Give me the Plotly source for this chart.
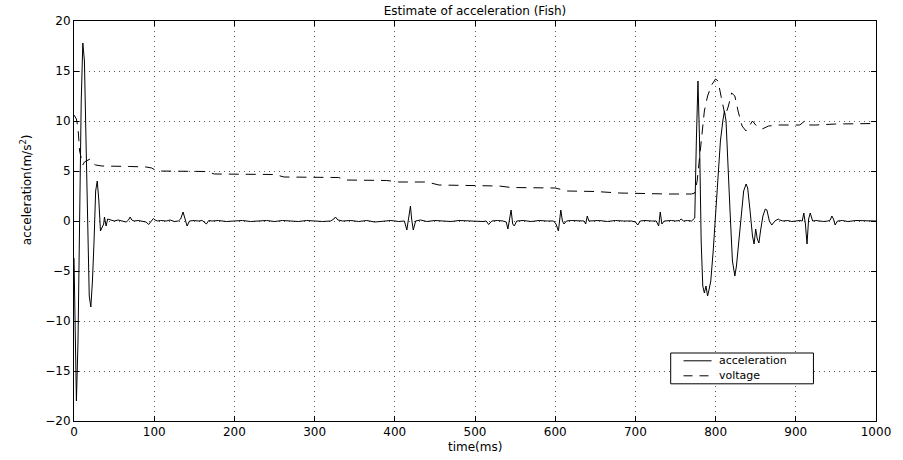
import plotly.graph_objects as go

# ---------------- data ----------------
time_acc = [
    0, 1, 3, 5, 7, 9, 11, 13, 15, 17, 19, 21, 23, 25, 27, 29, 31, 33, 35, 37, 38, 40, 42, 45,
    50, 55, 60, 65, 68, 70, 72, 75, 80, 85, 90, 93, 96, 99, 101, 104, 108, 115, 120, 125, 130,
    133, 136, 139, 141, 144, 150, 155, 160, 165, 168, 172,
    180, 190, 200, 210, 220, 230, 240, 250, 260, 270, 280, 290, 300, 310, 320,
    324, 326, 329, 335, 345, 355, 365, 375, 385, 395, 405,
    412, 415, 417, 419.5, 421, 423, 426, 432, 440, 450, 460, 470, 480, 490, 500, 510,
    514, 517, 521, 528,
    535, 539, 541, 543, 545, 547, 549, 552, 560, 570, 580, 590, 598,
    601, 604, 607, 609, 611, 614, 620, 630, 636, 638, 640, 642, 645,
    655, 665, 675, 685, 695, 700, 703, 706, 712, 720, 726, 729, 731, 733, 736,
    745, 750, 755, 757, 760, 765, 770,
    774, 776, 778, 780, 782, 784, 786, 788, 790, 792, 794,
    797, 800, 803, 806, 809, 811, 813, 815, 818, 821, 824, 826, 829, 832, 835, 838, 840,
    843, 846, 848, 850, 852, 854, 856, 859, 862, 864, 867, 870, 874, 878, 880, 884,
    890, 895, 900, 905, 908, 910, 912, 914, 916, 918, 921, 925, 930, 935, 940, 943, 945,
    947, 949, 952, 958, 965, 975, 985, 995, 1000,
]
acceleration = [
    -3.7, -10, -18, -12, 0, 12, 17.8, 16, 8, -2, -7.5, -8.6, -6, -2, 3, 4, 2, -1, -0.6, -0.3, 0.4, -0.5, 0.2, 0.1,
    0.0, 0.1, 0.0, -0.1, 0.1, 0.4, 0.1, 0.0, 0.05, 0.0, -0.1, -0.35, 0.0, 0.25, 0.1, 0.0, 0.05, 0.0, 0.1, -0.05, 0.0,
    0.2, 0.9, 0.0, -0.5, 0.0, 0.05, 0.0, 0.05, -0.3, 0.05, 0.0,
    0.05, -0.05, 0.0, 0.05, -0.05, 0.0, 0.05, -0.05, 0.05, 0.0, -0.05, 0.05, 0.0, -0.05, 0.0,
    0.2, 0.4, 0.1, 0.0, 0.05, -0.05, 0.05, -0.1, 0.0, 0.05, -0.05,
    0.0, -0.9, 0.0, 1.5, 0.2, -0.9, 0.0, 0.1, -0.05, 0.05, 0.0, -0.05, 0.05, 0.0, 0.0, -0.05,
    0.0, -0.35, 0.0, 0.05,
    0.0, -0.1, -0.8, 0.2, 1.1, -0.3, -0.5, 0.0, 0.05, -0.05, 0.05, 0.0, 0.0,
    -0.3, -1.0, 1.1, 0.0, -0.3, 0.0, 0.05, 0.0, 0.0, -0.3, 0.5, 0.0, 0.0,
    0.05, -0.05, 0.05, 0.0, 0.0, -0.1, -0.4, 0.0, 0.05, 0.0, 0.0, -0.5, 0.9, -0.3, 0.0,
    0.05, 0.0, 0.05, 0.2, 0.0, 0.05, 0.0,
    0.3, 8, 14, 8, -2, -6.5, -7.2, -6.5, -7.5, -6.8, -6,
    -3, 1, 5, 8, 10, 11, 10, 6, 1, -4, -5.5, -4.5, -2, 0.5, 3, 3.7, 3.3,
    1, -1.5, -2.3, -0.8, -1.8, -2.2, -1, 0.5, 1.2, 1.1, 0, -0.4, 0, 0.2, 0.1, 0,
    0.05, -0.05, 0.0, 0.05, 0.0, 0.8, -0.3, -2.3, 0.2, 0.8, 0.0, 0.05, 0.0, -0.05, 0.0, 0.1, 0.5,
    0.2, -0.4, 0.0, 0.05, -0.05, 0.05, 0.0, 0.0, 0.0,
]

time_volt = [
    0, 3, 5, 7, 9, 11, 13, 17, 20, 23,
    27, 35, 50, 70, 90, 97, 103, 130, 165, 175,
    200, 250, 262, 300, 330, 338, 390, 405, 440, 455,
    500, 530, 545, 600, 615, 650, 680, 700, 740, 770,
    774, 777, 782, 786, 790, 795, 800, 803, 808, 812,
    816, 820, 824, 828, 833, 838, 842, 846, 850, 858,
    866, 880, 900, 905, 911, 915, 925, 950, 1000,
]
voltage = [
    10.6, 10.2, 9.3, 7.0, 6.3, 5.6, 5.9, 6.1, 6.2, 5.8,
    5.6, 5.5, 5.5, 5.45, 5.4, 5.3, 5.0, 5.0, 4.95, 4.7,
    4.7, 4.65, 4.4, 4.4, 4.35, 4.1, 4.05, 3.9, 3.9, 3.6,
    3.55, 3.5, 3.35, 3.3, 3.0, 2.95, 2.8, 2.75, 2.7, 2.7,
    2.8, 4.0, 8.0, 11, 12.5, 13.6, 14.2, 14.0, 12, 10.5,
    11.5, 12.8, 12.5, 11, 9.5, 9.0, 9.5, 10.0, 9.6, 9.2,
    9.5, 9.6, 9.6, 9.6, 10.0, 9.6, 9.6, 9.7, 9.75,
]

series_names = ["acceleration", "voltage"]
x_ticks = [0, 100, 200, 300, 400, 500, 600, 700, 800, 900, 1000]
y_ticks = [-20, -15, -10, -5, 0, 5, 10, 15, 20]

FONT = "DejaVu Sans"
VOLT_DASH = "10px,7px"

fig = go.Figure()
fig.add_trace(go.Scatter(x=time_acc, y=acceleration, mode="lines", name=series_names[0],
                         line=dict(color="black", width=1), showlegend=False))
fig.add_trace(go.Scatter(x=time_volt, y=voltage, mode="lines", name=series_names[1],
                         line=dict(color="black", width=1, dash=VOLT_DASH), showlegend=False))

axis_common = dict(
    showline=True, linecolor="black", linewidth=1, mirror="allticks",
    ticks="inside", ticklen=5, tickcolor="black", tickwidth=1,
    showgrid=True, gridcolor="#5a5a5a", griddash="1px,4px", gridwidth=1,
    zeroline=False, tickfont=dict(family=FONT, size=12, color="black"),
)

fig.update_xaxes(range=[0, 1000], tickvals=x_ticks, **axis_common)
fig.update_yaxes(range=[-20, 20], tickvals=y_ticks,
                 ticktext=[str(v).replace("-", "\u2212") for v in y_ticks], **axis_common)

# legend box (drawn in paper coordinates, like the reference's boxed legend)
lx0, lx1 = 0.744, 0.922
ly0, ly1 = 0.093, 0.170
row_y = [0.1505, 0.1130]
sample_x = [0.760, 0.795]
text_x = 0.803

shapes = [dict(type="rect", xref="paper", yref="paper", x0=lx0, x1=lx1, y0=ly0, y1=ly1,
               line=dict(color="black", width=1), fillcolor="white", layer="above")]
shapes.append(dict(type="line", xref="paper", yref="paper", x0=sample_x[0], x1=sample_x[1],
                   y0=row_y[0], y1=row_y[0], line=dict(color="black", width=1), layer="above"))
shapes.append(dict(type="line", xref="paper", yref="paper", x0=sample_x[0], x1=sample_x[1],
                   y0=row_y[1], y1=row_y[1], line=dict(color="black", width=1, dash="9px,7px"),
                   layer="above"))

annotations = [
    dict(text="time(ms)", xref="paper", yref="paper", x=0.5, y=-0.065,
         xanchor="center", yanchor="middle", showarrow=False,
         font=dict(family=FONT, size=12, color="black")),
    dict(text="acceleration(m/s<sup>2</sup>)", xref="paper", yref="paper",
         x=-0.0606, y=0.578, xanchor="center", yanchor="middle", textangle=-90,
         showarrow=False, font=dict(family=FONT, size=12, color="black")),
]
for name, ry in zip(series_names, row_y):
    annotations.append(dict(text=name, xref="paper", yref="paper", x=text_x, y=ry,
                            xanchor="left", yanchor="middle", showarrow=False, borderpad=0,
                            font=dict(family=FONT, size=11, color="black")))

fig.update_layout(
    width=903, height=460,
    margin=dict(l=74, r=21, t=21, b=39),
    paper_bgcolor="white", plot_bgcolor="white",
    font=dict(family=FONT, size=12, color="black"),
    title=dict(text="Estimate of acceleration (Fish)", x=0.5, xref="paper",
               y=1 - 11 / 460, yref="container", yanchor="middle",
               font=dict(family=FONT, size=12, color="black")),
    showlegend=False,
    shapes=shapes,
    annotations=annotations,
)

fig.write_html("out.html")
